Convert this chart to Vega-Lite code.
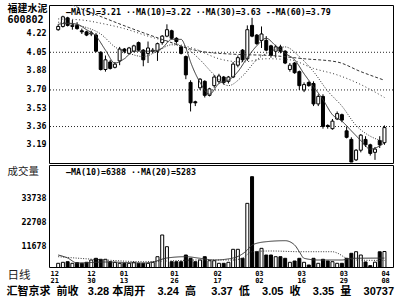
{
  "$schema": "https://vega.github.io/schema/vega-lite/v6.json",
  "background": "#ffffff",
  "padding": {"left": 6, "top": 2, "right": 4, "bottom": 0},
  "spacing": 0,
  "config": {
    "view": {"stroke": "#000000", "strokeWidth": 1},
    "axis": {"labelFont": "DejaVu Sans Mono", "labelFontWeight": "bold", "labelFontSize": 8.3, "labelColor": "#000000", "ticks": false, "domain": false, "labelPadding": 3, "labelOverlap": false, "labelFlush": false}
  },
  "datasets": {
    "k": [
      {"i":0,"o":4.26,"h":4.31,"l":4.25,"c":4.29,"v":3978},
      {"i":1,"o":4.29,"h":4.39,"l":4.28,"c":4.38,"v":4440},
      {"i":2,"o":4.37,"h":4.38,"l":4.29,"c":4.30,"v":4718},
      {"i":3,"o":4.29,"h":4.35,"l":4.26,"c":4.30,"v":3978},
      {"i":4,"o":4.30,"h":4.33,"l":4.26,"c":4.27,"v":4255},
      {"i":5,"o":4.25,"h":4.27,"l":4.22,"c":4.24,"v":3978},
      {"i":6,"o":4.24,"h":4.25,"l":4.20,"c":4.21,"v":4440},
      {"i":7,"o":4.22,"h":4.25,"l":4.20,"c":4.23,"v":5500},
      {"i":8,"o":4.21,"h":4.23,"l":4.05,"c":4.06,"v":6290},
      {"i":9,"o":4.05,"h":4.06,"l":3.88,"c":3.89,"v":5830},
      {"i":10,"o":3.89,"h":4.02,"l":3.87,"c":3.98,"v":5830},
      {"i":11,"o":3.96,"h":3.98,"l":3.89,"c":3.90,"v":4718},
      {"i":12,"o":3.91,"h":3.96,"l":3.90,"c":3.94,"v":4440},
      {"i":13,"o":3.97,"h":4.10,"l":3.93,"c":4.08,"v":3978},
      {"i":14,"o":4.08,"h":4.09,"l":4.04,"c":4.06,"v":3978},
      {"i":15,"o":4.04,"h":4.10,"l":4.03,"c":4.09,"v":3978},
      {"i":16,"o":4.06,"h":4.12,"l":4.05,"c":4.11,"v":4440},
      {"i":17,"o":4.14,"h":4.15,"l":4.06,"c":4.07,"v":3978},
      {"i":18,"o":4.07,"h":4.08,"l":3.92,"c":3.98,"v":3978},
      {"i":19,"o":4.04,"h":4.15,"l":3.95,"c":4.09,"v":3978},
      {"i":20,"o":4.06,"h":4.09,"l":4.04,"c":4.07,"v":4440},
      {"i":21,"o":4.06,"h":4.14,"l":3.97,"c":4.13,"v":7030},
      {"i":22,"o":4.14,"h":4.21,"l":4.12,"c":4.20,"v":17070},
      {"i":23,"o":4.20,"h":4.31,"l":4.19,"c":4.26,"v":11655},
      {"i":24,"o":4.25,"h":4.26,"l":4.17,"c":4.18,"v":4718},
      {"i":25,"o":4.18,"h":4.19,"l":4.13,"c":4.15,"v":4718},
      {"i":26,"o":4.10,"h":4.11,"l":4.03,"c":4.04,"v":4718},
      {"i":27,"o":4.01,"h":4.02,"l":3.80,"c":3.84,"v":7816},
      {"i":28,"o":3.77,"h":3.79,"l":3.50,"c":3.58,"v":6290},
      {"i":29,"o":3.59,"h":3.60,"l":3.55,"c":3.58,"v":4718},
      {"i":30,"o":3.72,"h":3.81,"l":3.70,"c":3.80,"v":5500},
      {"i":31,"o":3.78,"h":3.79,"l":3.63,"c":3.65,"v":7030},
      {"i":32,"o":3.65,"h":3.72,"l":3.64,"c":3.71,"v":5180},
      {"i":33,"o":3.74,"h":3.84,"l":3.72,"c":3.82,"v":5180},
      {"i":34,"o":3.78,"h":3.85,"l":3.76,"c":3.83,"v":3978},
      {"i":35,"o":3.82,"h":3.83,"l":3.75,"c":3.77,"v":3978},
      {"i":36,"o":3.78,"h":3.83,"l":3.76,"c":3.82,"v":4440},
      {"i":37,"o":3.82,"h":3.96,"l":3.81,"c":3.94,"v":10450},
      {"i":38,"o":3.93,"h":4.02,"l":3.91,"c":4.00,"v":10450},
      {"i":39,"o":4.07,"h":4.08,"l":3.96,"c":3.98,"v":6290},
      {"i":40,"o":3.99,"h":4.30,"l":3.97,"c":4.26,"v":31700},
      {"i":41,"o":4.30,"h":4.37,"l":4.19,"c":4.20,"v":44030},
      {"i":42,"o":4.21,"h":4.22,"l":4.12,"c":4.13,"v":9340},
      {"i":43,"o":4.16,"h":4.29,"l":4.09,"c":4.22,"v":10900},
      {"i":44,"o":4.16,"h":4.20,"l":4.06,"c":4.07,"v":7816},
      {"i":45,"o":4.11,"h":4.12,"l":4.00,"c":4.02,"v":7816},
      {"i":46,"o":4.06,"h":4.12,"l":4.00,"c":4.10,"v":7030},
      {"i":47,"o":4.10,"h":4.12,"l":4.04,"c":4.06,"v":7030},
      {"i":48,"o":4.06,"h":4.07,"l":3.94,"c":3.95,"v":6290},
      {"i":49,"o":3.89,"h":3.95,"l":3.87,"c":3.93,"v":4440},
      {"i":50,"o":3.95,"h":3.96,"l":3.85,"c":3.86,"v":5040},
      {"i":51,"o":3.87,"h":3.88,"l":3.70,"c":3.74,"v":6290},
      {"i":52,"o":3.70,"h":3.77,"l":3.68,"c":3.75,"v":4440},
      {"i":53,"o":3.77,"h":3.78,"l":3.73,"c":3.74,"v":3190},
      {"i":54,"o":3.76,"h":3.78,"l":3.55,"c":3.57,"v":6290},
      {"i":55,"o":3.57,"h":3.66,"l":3.55,"c":3.64,"v":3978},
      {"i":56,"o":3.64,"h":3.66,"l":3.34,"c":3.36,"v":5830},
      {"i":57,"o":3.37,"h":3.38,"l":3.34,"c":3.36,"v":5040},
      {"i":58,"o":3.34,"h":3.43,"l":3.33,"c":3.41,"v":4718},
      {"i":59,"o":3.43,"h":3.50,"l":3.42,"c":3.48,"v":3978},
      {"i":60,"o":3.47,"h":3.48,"l":3.40,"c":3.42,"v":3978},
      {"i":61,"o":3.32,"h":3.36,"l":3.25,"c":3.26,"v":6290},
      {"i":62,"o":3.24,"h":3.26,"l":3.03,"c":3.03,"v":8600},
      {"i":63,"o":3.05,"h":3.15,"l":3.04,"c":3.14,"v":9340},
      {"i":64,"o":3.14,"h":3.29,"l":3.12,"c":3.28,"v":7816},
      {"i":65,"o":3.24,"h":3.27,"l":3.17,"c":3.19,"v":4600},
      {"i":66,"o":3.19,"h":3.20,"l":3.09,"c":3.11,"v":2900},
      {"i":67,"o":3.12,"h":3.17,"l":3.05,"c":3.15,"v":4500},
      {"i":68,"o":3.23,"h":3.27,"l":3.16,"c":3.19,"v":9300},
      {"i":69,"o":3.21,"h":3.37,"l":3.19,"c":3.35,"v":9437}
    ],
    "ma": [
      {"k":"MA5","i":0,"p":4.31},{"k":"MA5","i":2,"p":4.32},{"k":"MA5","i":4,"p":4.31},{"k":"MA5","i":6,"p":4.26},
      {"k":"MA5","i":8,"p":4.20},{"k":"MA5","i":10,"p":4.07},{"k":"MA5","i":12,"p":3.95},{"k":"MA5","i":14,"p":3.99},
      {"k":"MA5","i":16,"p":4.06},{"k":"MA5","i":18,"p":4.06},{"k":"MA5","i":20,"p":4.06},{"k":"MA5","i":22,"p":4.09},
      {"k":"MA5","i":24,"p":4.17},{"k":"MA5","i":26,"p":4.17},{"k":"MA5","i":27,"p":4.09},{"k":"MA5","i":28,"p":3.96},
      {"k":"MA5","i":30,"p":3.77},{"k":"MA5","i":32,"p":3.66},{"k":"MA5","i":34,"p":3.76},{"k":"MA5","i":36,"p":3.79},
      {"k":"MA5","i":38,"p":3.87},{"k":"MA5","i":40,"p":4.00},{"k":"MA5","i":42,"p":4.11},{"k":"MA5","i":44,"p":4.18},
      {"k":"MA5","i":46,"p":4.11},{"k":"MA5","i":48,"p":4.04},{"k":"MA5","i":50,"p":3.98},{"k":"MA5","i":52,"p":3.85},
      {"k":"MA5","i":54,"p":3.73},{"k":"MA5","i":56,"p":3.61},{"k":"MA5","i":58,"p":3.47},{"k":"MA5","i":60,"p":3.41},
      {"k":"MA5","i":62,"p":3.32},{"k":"MA5","i":64,"p":3.23},{"k":"MA5","i":66,"p":3.15},{"k":"MA5","i":68,"p":3.18},
      {"k":"MA5","i":69,"p":3.21},
      {"k":"MA10","i":0,"p":4.33},{"k":"MA10","i":3,"p":4.31},{"k":"MA10","i":6,"p":4.28},{"k":"MA10","i":9,"p":4.22},
      {"k":"MA10","i":12,"p":4.10},{"k":"MA10","i":15,"p":4.04},{"k":"MA10","i":18,"p":4.01},{"k":"MA10","i":21,"p":4.06},
      {"k":"MA10","i":24,"p":4.12},{"k":"MA10","i":27,"p":4.09},{"k":"MA10","i":30,"p":3.98},{"k":"MA10","i":33,"p":3.84},
      {"k":"MA10","i":36,"p":3.74},{"k":"MA10","i":39,"p":3.83},{"k":"MA10","i":42,"p":3.98},{"k":"MA10","i":45,"p":4.06},
      {"k":"MA10","i":48,"p":4.10},{"k":"MA10","i":51,"p":4.01},{"k":"MA10","i":54,"p":3.87},{"k":"MA10","i":57,"p":3.69},
      {"k":"MA10","i":60,"p":3.55},{"k":"MA10","i":63,"p":3.37},{"k":"MA10","i":66,"p":3.27},{"k":"MA10","i":69,"p":3.22},
      {"k":"MA30","i":0,"p":4.36},{"k":"MA30","i":5,"p":4.35},{"k":"MA30","i":9,"p":4.32},{"k":"MA30","i":14,"p":4.27},
      {"k":"MA30","i":19,"p":4.20},{"k":"MA30","i":24,"p":4.14},{"k":"MA30","i":29,"p":4.08},{"k":"MA30","i":34,"p":3.99},
      {"k":"MA30","i":39,"p":3.96},{"k":"MA30","i":44,"p":3.99},{"k":"MA30","i":49,"p":3.98},{"k":"MA30","i":54,"p":3.90},
      {"k":"MA30","i":59,"p":3.84},{"k":"MA30","i":64,"p":3.75},{"k":"MA30","i":69,"p":3.63},
      {"k":"MA60","i":0,"p":4.55},{"k":"MA60","i":4,"p":4.47},{"k":"MA60","i":8,"p":4.40},{"k":"MA60","i":15,"p":4.28},
      {"k":"MA60","i":22,"p":4.17},{"k":"MA60","i":30,"p":4.06},{"k":"MA60","i":38,"p":4.03},{"k":"MA60","i":45,"p":4.02},
      {"k":"MA60","i":52,"p":3.99},{"k":"MA60","i":59,"p":3.96},{"k":"MA60","i":64,"p":3.87},{"k":"MA60","i":69,"p":3.79}
    ],
    "vma": [
      {"k":"V10","i":0,"v":7816},{"k":"V10","i":2,"v":6430},{"k":"V10","i":4,"v":4116},{"k":"V10","i":10,"v":4580},
      {"k":"V10","i":18,"v":4116},{"k":"V10","i":20,"v":4580},{"k":"V10","i":23,"v":6430},{"k":"V10","i":27,"v":7030},
      {"k":"V10","i":30,"v":6290},{"k":"V10","i":33,"v":5500},{"k":"V10","i":37,"v":6430},{"k":"V10","i":40,"v":10130},
      {"k":"V10","i":41,"v":12440},{"k":"V10","i":44,"v":13970},{"k":"V10","i":48,"v":14430},{"k":"V10","i":50,"v":12440},
      {"k":"V10","i":51,"v":9340},{"k":"V10","i":52,"v":6290},{"k":"V10","i":55,"v":5500},{"k":"V10","i":60,"v":5500},
      {"k":"V10","i":62,"v":6290},{"k":"V10","i":69,"v":6388},
      {"k":"V20","i":0,"v":7030},{"k":"V20","i":10,"v":5500},{"k":"V20","i":18,"v":4718},{"k":"V20","i":23,"v":5040},
      {"k":"V20","i":30,"v":5500},{"k":"V20","i":37,"v":5500},{"k":"V20","i":39,"v":6430},{"k":"V20","i":41,"v":9340},
      {"k":"V20","i":45,"v":9670},{"k":"V20","i":51,"v":9340},{"k":"V20","i":58,"v":9340},{"k":"V20","i":59,"v":8740},
      {"k":"V20","i":61,"v":6290},{"k":"V20","i":63,"v":5500},{"k":"V20","i":69,"v":5283}
    ],
    "grid": [{"g": 4.05}, {"g": 3.70}, {"g": 3.36}],
    "legendPrice": [{"t": "—MA(5)=3.21 ··MA(10)=3.22 ··MA(30)=3.63 --MA(60)=3.79"}],
    "legendVol": [{"t": "—MA(10)=6388 ··MA(20)=5283"}]
  },
  "title": {
    "text": "汇智京求\u00a0\u00a0前收\u00a0\u00a0\u00a03.28\u00a0本周开\u00a0\u00a0\u00a0\u00a03.24\u00a0\u00a0高\u00a0\u00a0\u00a0\u00a0\u00a03.37\u00a0\u00a0低\u00a0\u00a0\u00a0\u00a03.05\u00a0\u00a0收\u00a0\u00a0\u00a0\u00a03.35\u00a0\u00a0量\u00a0\u00a0\u00a0\u00a030737",
    "orient": "bottom", "anchor": "start", "offset": 2,
    "font": "Liberation Sans, Noto Sans CJK SC", "fontSize": 11, "fontWeight": "bold", "color": "#000000"
  },
  "vconcat": [
    {
      "width": 344,
      "height": 158,
      "resolve": {"axis": {"x": "independent", "y": "independent"}},
      "layer": [
        {
          "data": {"name": "grid"},
          "mark": {"type": "rule", "color": "#000000", "strokeWidth": 1, "strokeDash": [1, 2], "opacity": 0.85},
          "encoding": {
            "y": {"field": "g", "type": "quantitative", "scale": {"domain": [3.021, 4.4895], "nice": false, "zero": false},
              "axis": {"values": [4.22, 4.05, 3.88, 3.70, 3.53, 3.36, 3.19], "format": ".2f", "grid": false, "labelOverlap": false, "orient": "left",
                "title": ["福建水泥", "600802"], "titleAngle": 0, "titleAlign": "left", "titleBaseline": "top", "titleX": -42, "titleY": -2,
                "titleFont": "DejaVu Sans Mono, Noto Sans CJK SC", "titleFontSize": 10, "titleLineHeight": 11, "titleFontWeight": "bold", "titleColor": "#000000"}}
          }
        },
        {
          "data": {"name": "k"},
          "mark": {"type": "rule", "color": "#000000", "strokeWidth": 1},
          "encoding": {
            "x": {"field": "i", "type": "quantitative", "scale": {"domain": [-0.883, 69.75], "nice": false, "zero": false}, "axis": null},
            "y": {"field": "l", "type": "quantitative", "axis": null},
            "y2": {"field": "h"}
          }
        },
        {
          "data": {"name": "k"},
          "mark": {"type": "bar", "width": 3, "stroke": "#000000", "strokeWidth": 1},
          "encoding": {
            "x": {"field": "i", "type": "quantitative", "axis": null},
            "y": {"field": "o", "type": "quantitative", "axis": null},
            "y2": {"field": "c"},
            "fill": {"condition": {"test": "datum.c >= datum.o", "value": "#ffffff"}, "value": "#000000"}
          }
        },
        {
          "data": {"name": "ma"},
          "mark": {"type": "line", "strokeWidth": 1, "color": "#333333", "interpolate": "monotone", "clip": true},
          "encoding": {
            "x": {"field": "i", "type": "quantitative", "axis": null},
            "y": {"field": "p", "type": "quantitative", "axis": null},
            "strokeDash": {"field": "k", "type": "nominal", "scale": {"domain": ["MA5", "MA10", "MA30", "MA60"], "range": [[1, 0], [1, 1.5], [1, 2.5], [3, 2]]}, "legend": null}
          }
        },
        {
          "data": {"name": "legendPrice"},
          "mark": {"type": "text", "align": "left", "baseline": "alphabetic", "dx": 12, "dy": 10, "font": "DejaVu Sans Mono", "fontSize": 8.3, "fontWeight": "bold", "color": "#000000"},
          "encoding": {
            "text": {"field": "t"},
            "x": {"datum": -0.883, "type": "quantitative", "axis": null},
            "y": {"datum": 4.4895, "type": "quantitative", "axis": null}
          }
        }
      ]
    },
    {
      "width": 344,
      "height": 102,
      "resolve": {"axis": {"x": "independent", "y": "independent"}},
      "layer": [
        {
          "data": {"name": "k"},
          "mark": {"type": "bar", "width": 3, "stroke": "#000000", "strokeWidth": 1, "clip": true},
          "encoding": {
            "x": {"field": "i", "type": "quantitative", "scale": {"domain": [-0.883, 69.75], "nice": false, "zero": false},
              "axis": {"values": [-0.85, 6.92, 13.8, 24.48, 33.61, 42.44, 51.38, 60.31, 69.14], "orient": "bottom",
                "labelExpr": "[['12','21'],['12','30'],['01','13'],['01','26'],['02','17'],['03','02'],['03','16'],['03','29'],['04','08']][indexof([-0.85, 6.92, 13.8, 24.48, 33.61, 42.44, 51.38, 60.31, 69.14], datum.value)]",
                "labelFontSize": 7, "labelLineHeight": 7.5, "labelPadding": 2, "grid": false, "labelOverlap": false,
                "title": "日线", "titleAngle": 0, "titleAlign": "left", "titleBaseline": "middle", "titleX": -42, "titleY": 8,
                "titleFont": "Noto Sans CJK SC", "titleFontSize": 11.5, "titleFontWeight": "normal", "titleColor": "#222222"}},
            "y": {"field": "v", "type": "quantitative", "scale": {"domain": [2266, 49441], "nice": false, "zero": false},
              "axis": {"values": [11678, 22708, 33738], "format": "d", "grid": false, "labelOverlap": false, "orient": "left",
                "title": "成交量", "titleAngle": 0, "titleAlign": "left", "titleBaseline": "top", "titleX": -42, "titleY": 1,
                "titleFont": "Noto Sans CJK SC", "titleFontSize": 10.5, "titleFontWeight": "normal", "titleColor": "#222222"}},
            "fill": {"condition": {"test": "datum.c >= datum.o", "value": "#ffffff"}, "value": "#000000"}
          }
        },
        {
          "data": {"name": "vma"},
          "mark": {"type": "line", "strokeWidth": 1, "color": "#333333", "interpolate": "monotone", "clip": true},
          "encoding": {
            "x": {"field": "i", "type": "quantitative", "axis": null},
            "y": {"field": "v", "type": "quantitative", "axis": null},
            "strokeDash": {"field": "k", "type": "nominal", "scale": {"domain": ["V10", "V20"], "range": [[1, 0], [1, 1.5]]}, "legend": null}
          }
        },
        {
          "data": {"name": "legendVol"},
          "mark": {"type": "text", "align": "left", "baseline": "alphabetic", "dx": 12, "dy": 10, "font": "DejaVu Sans Mono", "fontSize": 8.3, "fontWeight": "bold", "color": "#000000"},
          "encoding": {
            "text": {"field": "t"},
            "x": {"datum": -0.883, "type": "quantitative", "axis": null},
            "y": {"datum": 49441, "type": "quantitative", "axis": null}
          }
        }
      ]
    }
  ]
}
